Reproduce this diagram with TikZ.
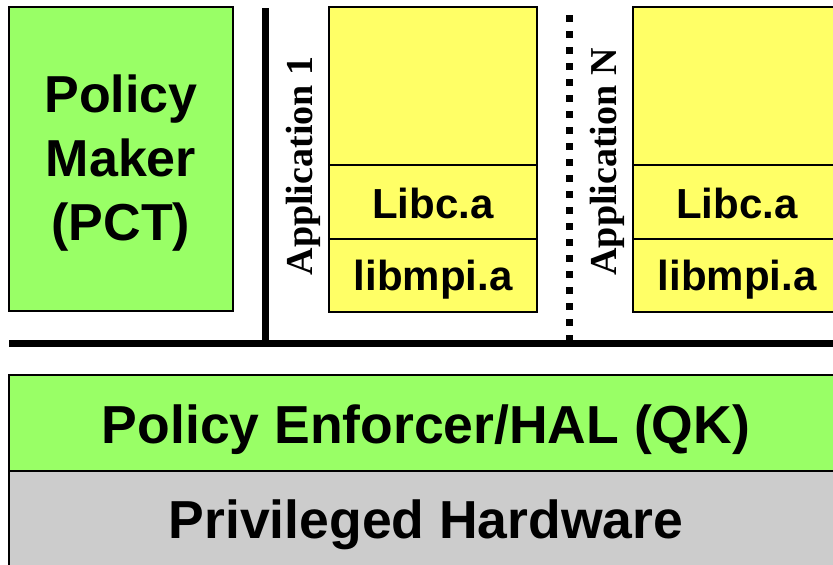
\documentclass[tikz,border=0pt]{standalone}
\usepackage{fontspec}
\setmainfont{Liberation Sans}
\newfontfamily\serifbold{Liberation Serif}[BoldFont={* Bold}]
\definecolor{pgreen}{HTML}{99FF66}
\definecolor{pyellow}{HTML}{FFFF66}
\definecolor{pgray}{HTML}{CCCCCC}
\tikzset{
  layer/.style={draw=black, line width=2pt},
  pmtext/.style={font=\fontsize{52}{64}\selectfont\bfseries, inner sep=0pt},
  bigtext/.style={font=\fontsize{53.5}{64}\selectfont\bfseries, inner sep=0pt},
  libtext/.style={font=\fontsize{42}{48}\selectfont\bfseries, inner sep=0pt, anchor=base},
  apptext/.style={font=\fontsize{38}{44}\selectfont\serifbold\bfseries, inner sep=0pt, rotate=90, anchor=base},
  divider/.style={line width=7pt},
  dotdivider/.style={line width=7pt, dash pattern=on 7pt off 9pt}
}
\begin{document}
\begin{tikzpicture}[x=1pt, y=-1pt]
\useasboundingbox (0,0) rectangle (833,565);
\clip (0,0) rectangle (833,565);

% policy maker
\draw[layer, fill=pgreen] (9,7) rectangle (233,311);
\node[pmtext, align=center] (pm) at (121,163) {Policy\\Maker\\(PCT)};

% application 1 stack
\draw[layer, fill=pyellow] (329,7) rectangle (537,165);
\draw[layer, fill=pyellow] (329,165) rectangle (537,239);
\draw[layer, fill=pyellow] (329,239) rectangle (537,312);
\node[libtext] (libc1) at (433,218) {Libc.a};
\node[libtext] (mpi1) at (433,290) {libmpi.a};
\node[apptext] (app1) at (312,166) {Application 1};

% application N stack
\draw[layer, fill=pyellow] (633,7) rectangle (841,165);
\draw[layer, fill=pyellow] (633,165) rectangle (841,239);
\draw[layer, fill=pyellow] (633,239) rectangle (841,312);
\node[libtext] (libcN) at (737,218) {Libc.a};
\node[libtext] (mpiN) at (737,290) {libmpi.a};
\node[apptext] (appN) at (616,162) {Application N};

% separators
\coordinate (hl) at (9,343);
\coordinate (hr) at (840,343);
\coordinate (v1t) at (265,8);
\coordinate (v1b) at (265,343);
\coordinate (vNt) at (569,15);
\coordinate (vNb) at (569,340);
\draw[divider] (hl) -- (hr);
\draw[divider] (v1t) -- (v1b);
\draw[dotdivider] (vNt) -- (vNb);

% kernel and hardware layers
\draw[layer, fill=pgreen] (9,375) rectangle (843,471);
\draw[layer, fill=pgray] (9,471) rectangle (843,570);
\node[bigtext, anchor=base] (qk) at (426,443) {Policy Enforcer/HAL (QK)};
\node[bigtext, anchor=base] (hw) at (426,538) {Privileged Hardware};
\end{tikzpicture}
\end{document}
